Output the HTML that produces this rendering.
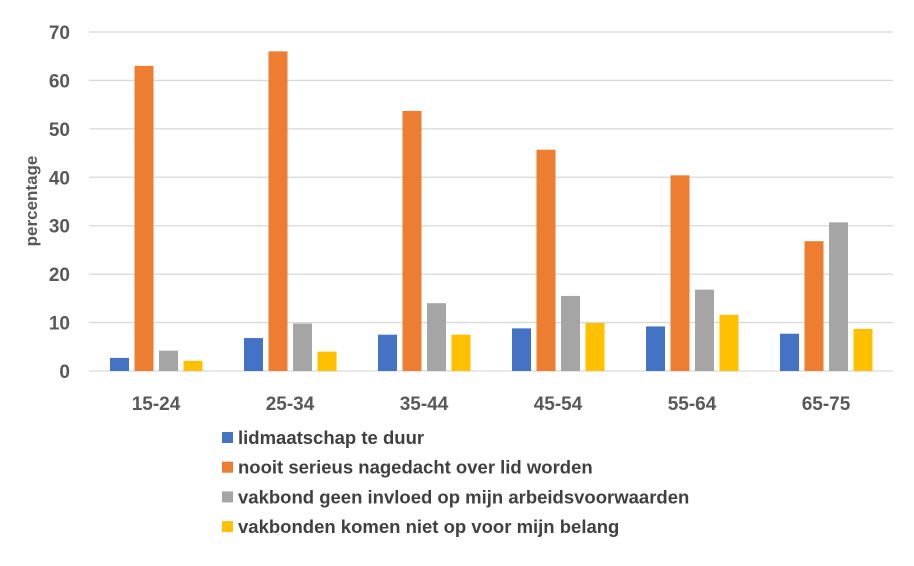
<!DOCTYPE html>
<html><head><meta charset="utf-8"><style>
body{margin:0;background:#fff;width:914px;height:561px;overflow:hidden;font-family:"Liberation Sans",sans-serif}
</style></head><body>
<svg id="chart" width="914" height="561" xmlns="http://www.w3.org/2000/svg"></svg>
<script>
const categories=["15-24","25-34","35-44","45-54","55-64","65-75"];
const seriesNames=["lidmaatschap te duur","nooit serieus nagedacht over lid worden","vakbond geen invloed op mijn arbeidsvoorwaarden","vakbonden komen niet op voor mijn belang"];
const s1=[2.7,6.8,7.5,8.8,9.2,7.7];
const s2=[63,66,53.7,45.7,40.4,26.8];
const s3=[4.2,9.8,14,15.5,16.8,30.7];
const s4=[2.1,4,7.5,9.9,11.6,8.7];
const yTicks=[0,10,20,30,40,50,60,70];
const colors=["#4472C4","#ED7D31","#A5A5A5","#FFC000"];
const series=[s1,s2,s3,s4];
const svg=document.getElementById('chart');
const NS="http://www.w3.org/2000/svg";
const x0=89,x1=893,y0=371,yTop=32,ymax=70;
const y=v=>y0-(v/ymax)*(y0-yTop);
const bw=(x1-x0)/categories.length;
function mk(t,a){const e=document.createElementNS(NS,t);for(const k in a)e.setAttribute(k,a[k]);svg.appendChild(e);return e;}
yTicks.forEach(t=>{
 const l=mk('line',{x1:x0,x2:x1,y1:y(t),y2:y(t),stroke:'#d9d9d9','stroke-width':1.3});
 
 
 const tx=mk('text',{x:70,y:y(t)+7,'text-anchor':'end','font-size':19,'font-weight':'bold',fill:'#595959'});
 tx.textContent=t;
 
 
});
categories.forEach((c,i)=>{
 const cx=x0+bw*(i+0.5);
 series.forEach((s,j)=>{
  const bx=cx-46+j*24.5;
  const r=mk('rect',{x:bx,y:y(s[i]),width:19,height:y0-y(s[i]),fill:colors[j]});
  
  
 });
 const t=mk('text',{x:cx,y:410,'text-anchor':'middle','font-size':19,'font-weight':'bold',fill:'#595959'});
 t.textContent=c;
 
 
});
const yt=mk('text',{x:0,y:0,transform:'translate(37,201) rotate(-90)','text-anchor':'middle','font-size':17,'font-weight':'bold',fill:'#595959'});
yt.textContent='percentage';


seriesNames.forEach((n,j)=>{
 const ly=438+j*29.7;
 const r=mk('rect',{x:222,y:ly-6,width:11,height:11,fill:colors[j]});
 
 
 const t=mk('text',{x:238,y:ly+6,'font-size':18.5,'font-weight':'bold',fill:'#404040'});
 t.textContent=n;
 
 
});
</script>
</body></html>
